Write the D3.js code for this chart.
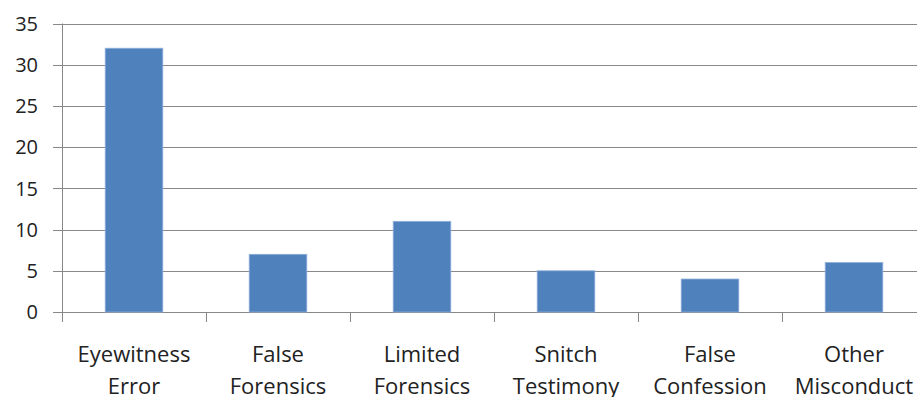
<!DOCTYPE html>
<html><head><meta charset="utf-8">
<script src="https://cdn.jsdelivr.net/npm/d3@7"></script>
<style>body{margin:0;background:#fff;}svg{display:block;}</style>
</head><body>
<svg id="c" width="917" height="397"></svg>
<script>
const categories = [["Eyewitness","Error"],["False","Forensics"],["Limited","Forensics"],["Snitch","Testimony"],["False","Confession"],["Other","Misconduct"]];
const values = [32, 7, 11, 5, 4, 6];
const yTicks = [0,5,10,15,20,25,30,35];

(function(){
const svg = d3.select("#c");
const pLeft = 62, pRight = 926, pTop = 23.5, pBottom = 312;
const x = d3.scaleBand().domain(d3.range(categories.length)).range([pLeft, pRight]).paddingInner(0.6).paddingOuter(0.3);
const xc = d3.scaleBand().domain(d3.range(categories.length)).range([pLeft, pRight]);
const y = d3.scaleLinear().domain([0,35]).range([pBottom, pTop]);
const font = "'Open Sans', sans-serif";

svg.append("g").selectAll("line").data(yTicks).join("line")
  .attr("x1", pLeft-9).attr("x2", pRight)
  .attr("y1", d=>Math.round(y(d))+0.5).attr("y2", d=>Math.round(y(d))+0.5)
  .attr("stroke", "#888").attr("stroke-width", 1);

svg.append("line").attr("x1", pLeft+0.5).attr("x2", pLeft+0.5).attr("y1", pTop).attr("y2", pBottom)
  .attr("stroke","#888");

svg.append("g").selectAll("text").data(yTicks).join("text")
  .attr("x", 38).attr("y", d=>y(d)).attr("dy","0.36em")
  .attr("text-anchor","end").attr("font-family", font).attr("font-size", 20).attr("fill","#222")
  .text(d=>d);

svg.append("g").selectAll("line").data(d3.range(categories.length+1)).join("line")
  .attr("x1", d=>Math.round(pLeft + d*xc.bandwidth())+0.5).attr("x2", d=>Math.round(pLeft + d*xc.bandwidth())+0.5)
  .attr("y1", pBottom).attr("y2", pBottom+10).attr("stroke","#888");

svg.append("g").selectAll("rect").data(values).join("rect")
  .attr("x", (d,i)=>x(i)).attr("width", x.bandwidth())
  .attr("y", d=>y(d)).attr("height", d=>pBottom - y(d))
  .attr("fill", "#4f81bd").attr("stroke","#8fb0da").attr("stroke-width",0.8);

const lab = svg.append("g").selectAll("text").data(categories).join("text")
  .attr("text-anchor","middle").attr("font-family", font).attr("font-size", 22).attr("fill","#222");
lab.each(function(d,i){
  const t = d3.select(this);
  d.forEach((s,k)=>{
    t.append("tspan").attr("x", xc(i)+xc.bandwidth()/2).attr("y", 362 + k*32).text(s);
  });
});
})();
</script>
</body></html>
